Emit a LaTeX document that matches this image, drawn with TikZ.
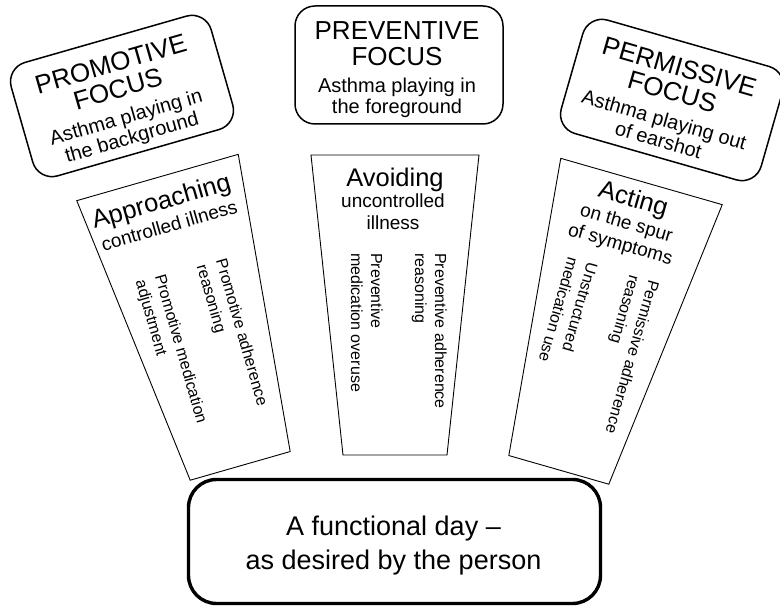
\documentclass[tikz,border=0pt]{standalone}
\usepackage{fontspec}
\setmainfont{Liberation Sans}
\begin{document}
\begin{tikzpicture}[x=1pt, y=-1pt,
  focusbox/.style={draw, line width=1.5pt, rounded corners=20pt,
    minimum width=208pt, minimum height=118pt, inner sep=0pt},
  focustitle/.style={anchor=base, inner sep=0pt, font=\fontsize{26}{26}\selectfont},
  focussub/.style={anchor=base, inner sep=0pt, font=\fontsize{20}{21}\selectfont},
  trapline/.style={draw, line width=0.9pt, line join=miter},
  headbig/.style={anchor=base, inner sep=0pt, font=\fontsize{25.5}{26}\selectfont},
  headsmall/.style={anchor=base, inner sep=0pt, font=\fontsize{19}{21}\selectfont},
  vtext/.style={rotate=-90, anchor=north west, align=left, inner sep=0pt,
    font=\fontsize{16}{20}\selectfont},
  daybox/.style={draw, fill=white, line width=3.4pt, rounded corners=28pt,
    minimum width=412pt, minimum height=124pt, inner sep=0pt},
  daytext/.style={anchor=base, inner sep=0pt, font=\fontsize{27}{34}\selectfont}
]
\useasboundingbox (0,0) rectangle (780,609);

% ---------- focus boxes ----------
\begin{scope}[shift={(122,96)}, rotate=16, transform shape]
  \node[focusbox] (promo) at (0,0) {};
  \node[focustitle] (promo1) at (-2,-25) {PROMOTIVE};
  \node[focustitle] (promo2) at (-2,1) {FOCUS};
  \node[focussub] (promo3) at (-2,28) {Asthma playing in};
  \node[focussub] (promo4) at (-2,49) {the background};
\end{scope}

\begin{scope}[shift={(399,65)}]
  \node[focusbox] (prev) at (0,0) {};
  \node[focustitle] (prev1) at (-2,-25) {PREVENTIVE};
  \node[focustitle] (prev2) at (-2,1) {FOCUS};
  \node[focussub] (prev3) at (-2,28) {Asthma playing in};
  \node[focussub] (prev4) at (-2,49) {the foreground};
\end{scope}

\begin{scope}[shift={(672,100)}, rotate=-16, transform shape]
  \node[focusbox] (perm) at (0,0) {};
  \node[focustitle] (perm1) at (-2,-25) {PERMISSIVE};
  \node[focustitle] (perm2) at (-2,1) {FOCUS};
  \node[focussub] (perm3) at (-2,28) {Asthma playing out};
  \node[focussub] (perm4) at (-2,49) {of earshot};
\end{scope}

% ---------- strategy trapezoids ----------
\begin{scope}[shift={(157.5,177.5)}, rotate=16, transform shape]
  \draw[trapline] (-84,0) -- (84,0) -- (52,300) -- (-52,300) -- cycle;
  \coordinate (approach) at (0,150);
  \node[headbig] (ap1) at (-3,32) {Approaching};
  \node[headsmall] (ap2) at (-2,56) {controlled illness};
  \node[vtext] (ap3) at (45,96) {Promotive adherence\\reasoning};
  \node[vtext] (ap4) at (-18,94) {Promotive medication\\adjustment};
\end{scope}

\begin{scope}[shift={(395,155)}]
  \draw[trapline] (-84,0) -- (84,0) -- (52,300) -- (-52,300) -- cycle;
  \coordinate (avoid) at (0,150);
  \node[headbig] (av1) at (0,32) {Avoiding};
  \node[headsmall] (av2) at (-2,53) {uncontrolled};
  \node[headsmall] (av3) at (-2,75) {illness};
  \node[vtext] (av4) at (52,98) {Preventive adherence\\reasoning};
  \node[vtext] (av5) at (-12,98) {Preventive\\medication overuse};
\end{scope}

\begin{scope}[shift={(641.5,181.5)}, rotate=-16, transform shape]
  \draw[trapline] (-84,0) -- (84,0) -- (52,300) -- (-52,300) -- cycle;
  \coordinate (act) at (0,150);
  \node[headbig] (ac1) at (-3,27) {Acting};
  \node[headsmall] (ac2) at (-3,50) {on the spur};
  \node[headsmall] (ac3) at (-3,72) {of symptoms};
  \node[vtext] (ac4) at (46,92) {Permissive adherence\\reasoning};
  \node[vtext] (ac5) at (-18,92) {Unstructured\\medication use};
\end{scope}

% ---------- outcome ----------
\node[daybox] (day) at (394.5,541.5) {};
\node[daytext] (day1) at (393.5,535.5) {A functional day --};
\node[daytext] (day2) at (393.5,570) {as desired by the person};
\end{tikzpicture}
\end{document}
